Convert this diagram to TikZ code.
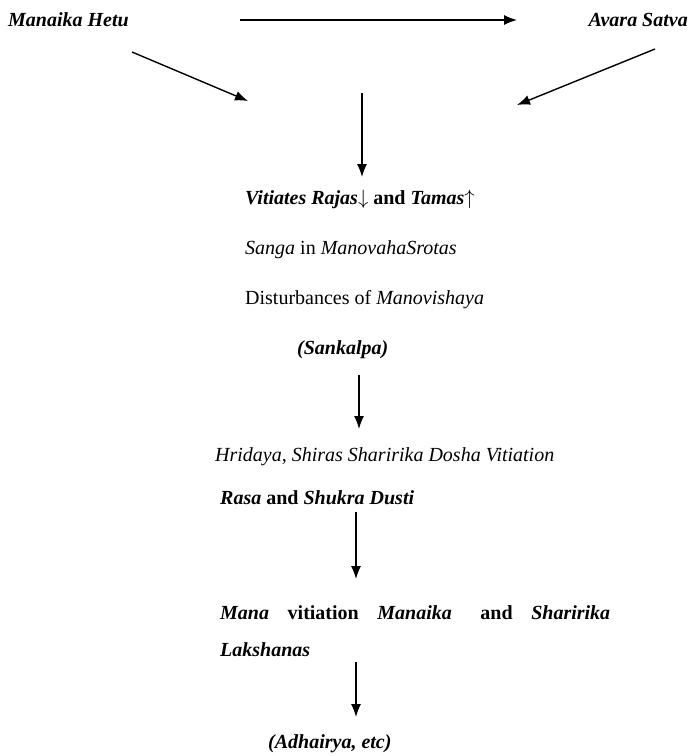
\documentclass[tikz,border=0pt]{standalone}
\usepackage{fontspec}
\setmainfont{Liberation Serif}
\usetikzlibrary{arrows.meta}

\begin{document}
\begin{tikzpicture}[x=1pt, y=-1pt,
    lbl/.style={anchor=base west, inner sep=0pt, font=\fontsize{20}{24}\selectfont},
    arr/.style={-{Latex[length=13pt,width=10pt]}, line width=1.4pt}]
    \useasboundingbox (0,0) rectangle (690,756);

    % Causes
    \node[lbl] (hetu) at (8,26) {\textbf{\textit{Manaika Hetu}}};
    \node[lbl, anchor=base east] (satva) at (688,26) {\textbf{\textit{Avara Satva}}};

    % Etapes
    \node[lbl] (vitiates) at (245,204) {\textbf{\textit{Vitiates Rajas}}$\downarrow$ \textbf{and} \textbf{\textit{Tamas}}$\uparrow$};
    \node[lbl] (sanga) at (245,254) {\textit{Sanga} in \textit{ManovahaSrotas}};
    \node[lbl] (disturb) at (245,304) {Disturbances of \textit{Manovishaya}};
    \node[lbl] (sankalpa) at (297,354) {\textbf{\textit{(Sankalpa)}}};
    \node[lbl] (hridaya) at (215,461) {\textit{Hridaya, Shiras Sharirika Dosha Vitiation}};
    \node[lbl] (rasa) at (220,504) {\textbf{\textit{Rasa} and \textit{Shukra Dusti}}};
    \node[lbl] (mana) at (220,619) {\makebox[390pt][s]{\textbf{\textit{Mana} vitiation \textit{Manaika}\hspace{10pt} and \textit{Sharirika}}}};
    \node[lbl] (laksh) at (220,656) {\textbf{\textit{Lakshanas}}};
    \node[lbl] (adhairya) at (268,748) {\textbf{\textit{(Adhairya, etc)}}};

    % Bouts des fleches
    \coordinate (h1) at (240,20);
    \coordinate (h2) at (517,20);
    \coordinate (d1) at (132,52);
    \coordinate (d2) at (248,101);
    \coordinate (d3) at (655,49);
    \coordinate (d4) at (517,105);
    \coordinate (v1) at (362,93);
    \coordinate (v2) at (362,177);
    \coordinate (v3) at (359,375);
    \coordinate (v4) at (359,429);
    \coordinate (v5) at (356,512);
    \coordinate (v6) at (356,579);
    \coordinate (v7) at (356,662);
    \coordinate (v8) at (356,717);

    % Fleches
    \draw[arr] (h1) -- (h2);
    \draw[arr] (d1) -- (d2);
    \draw[arr] (d3) -- (d4);
    \draw[arr] (v1) -- (v2);
    \draw[arr] (v3) -- (v4);
    \draw[arr] (v5) -- (v6);
    \draw[arr] (v7) -- (v8);
\end{tikzpicture}
\end{document}
